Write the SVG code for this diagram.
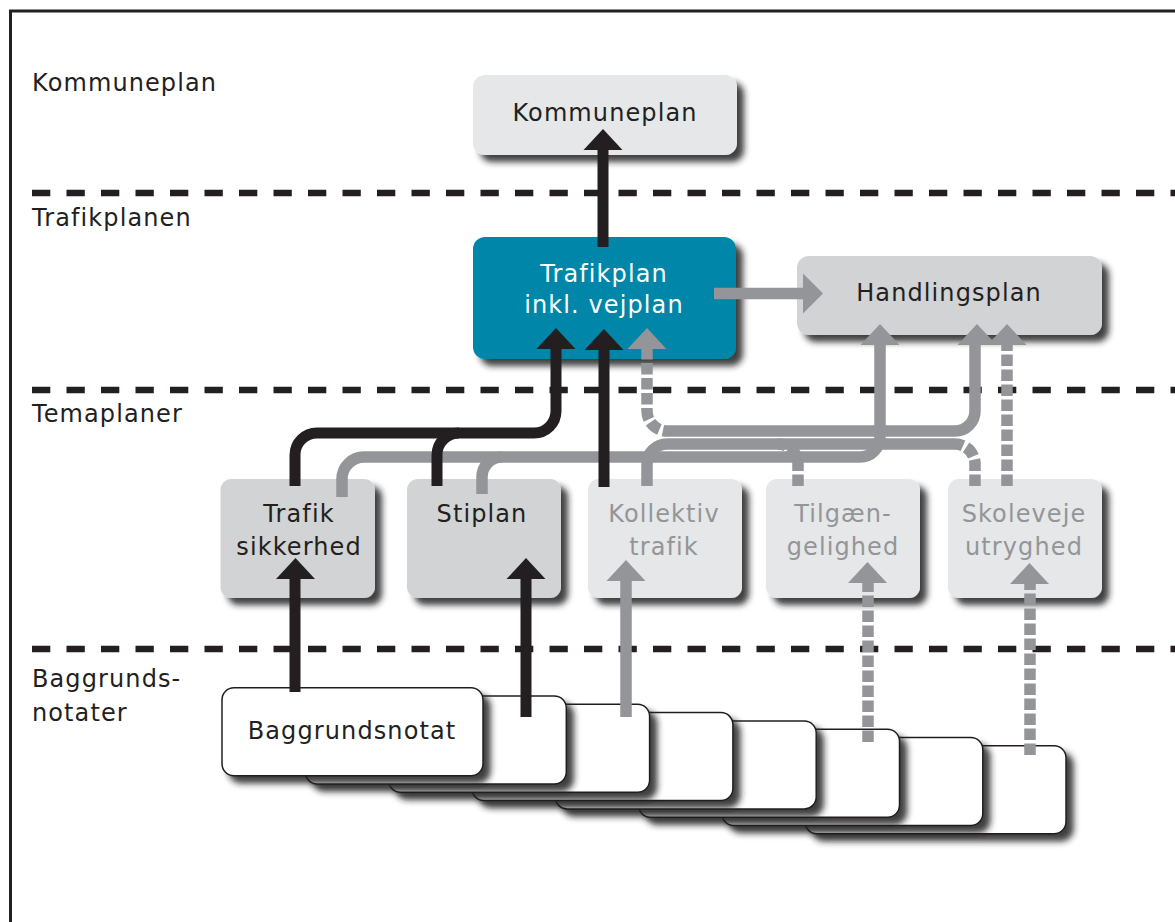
<svg xmlns="http://www.w3.org/2000/svg" width="1175" height="922" viewBox="0 0 1175 922">
<style>
text{font-family:"DejaVu Sans","Verdana",sans-serif;font-size:24px;letter-spacing:1.1px;fill:#231f20}
.c{text-anchor:middle}
.w{fill:#ffffff}
.g{fill:#939598}
.dash{stroke:#231f20;stroke-width:6.5;stroke-dasharray:18.3 16.2;fill:none}
.bk{stroke:#231f20;stroke-width:11;fill:none}
.gs{stroke:#939598;stroke-width:11.5;fill:none}
.gd{stroke:#939598;stroke-width:11.5;fill:none;stroke-dasharray:11.5 3.5}
.ahk{fill:#231f20}
.ahg{fill:#939598}
.box{filter:url(#sh)}
.note{fill:#ffffff;stroke:#231f20;stroke-width:1.5;filter:url(#sh)}
</style>
<defs>
<filter id="sh" x="-10%" y="-10%" width="130%" height="140%">
<feDropShadow dx="7" dy="7" stdDeviation="3" flood-color="#231f20" flood-opacity="0.85"/>
</filter>
</defs>
<rect x="0" y="0" width="1175" height="922" fill="#ffffff"/>
<rect x="10.5" y="11" width="1200" height="1000" fill="none" stroke="#231f20" stroke-width="3"/>
<g id="layers">
<line class="dash" x1="32" y1="193" x2="1175" y2="193"/>
<line class="dash" x1="32" y1="390" x2="1175" y2="390"/>
<line class="dash" x1="32" y1="649" x2="1175" y2="649"/>
<text x="32" y="91">Kommuneplan</text>
<text x="32" y="226">Trafikplanen</text>
<text x="32" y="422">Temaplaner</text>
<text x="32" y="687">Baggrunds-</text>
<text x="32" y="721">notater</text>
</g>
<g id="n-kommuneplan">
<rect class="box" x="473" y="75" width="264" height="80" rx="12" fill="#e6e7e8"/>
<text class="c" x="605" y="121">Kommuneplan</text>
</g>
<g id="n-trafikplan">
<rect class="box" x="473" y="237" width="263" height="122" rx="12" fill="#0086a9"/>
<text class="c w" x="604" y="282">Trafikplan</text>
<text class="c w" x="604" y="313">inkl. vejplan</text>
</g>
<g id="n-handlingsplan">
<rect class="box" x="797" y="256" width="305" height="79" rx="12" fill="#d1d3d4"/>
<text class="c" x="949" y="301">Handlingsplan</text>
</g>
<g id="n-trafiksikkerhed">
<rect class="box" x="220.5" y="479" width="154.5" height="119" rx="11" fill="#d1d3d4"/>
<text class="c" x="299" y="522">Trafik</text>
<text class="c" x="299" y="555">sikkerhed</text>
</g>
<g id="n-stiplan">
<rect class="box" x="407" y="479" width="154" height="119" rx="11" fill="#d1d3d4"/>
<text class="c" x="482" y="522">Stiplan</text>
</g>
<g id="n-kollektiv">
<rect class="box" x="588" y="479" width="154" height="119" rx="11" fill="#e6e7e8"/>
<text class="c g" x="664" y="522">Kollektiv</text>
<text class="c g" x="664" y="555">trafik</text>
</g>
<g id="n-tilgaengelighed">
<rect class="box" x="766" y="479" width="154" height="119" rx="11" fill="#e6e7e8"/>
<text class="c g" x="843" y="522">Tilgæn-</text>
<text class="c g" x="843" y="555">gelighed</text>
</g>
<g id="n-skoleveje">
<rect class="box" x="948" y="479" width="154" height="119" rx="11" fill="#e6e7e8"/>
<text class="c g" x="1024" y="522">Skoleveje</text>
<text class="c g" x="1024" y="555">utryghed</text>
</g>
<g id="n-baggrundsnotater">
<rect class="note" x="805" y="745.8" width="261" height="88" rx="12"/>
<rect class="note" x="721.8" y="737.5" width="261" height="88" rx="12"/>
<rect class="note" x="638.5" y="729.2" width="261" height="88" rx="12"/>
<rect class="note" x="555.2" y="720.9" width="261" height="88" rx="12"/>
<rect class="note" x="471.9" y="712.6" width="261" height="88" rx="12"/>
<rect class="note" x="388.6" y="704.3" width="261" height="88" rx="12"/>
<rect class="note" x="305.3" y="696" width="261" height="88" rx="12"/>
<rect class="note" x="222" y="687.7" width="261" height="88" rx="12"/>
<text class="c" x="352" y="739">Baggrundsnotat</text>
</g>
<g id="connectors">
<!-- gray solid -->
<path class="gs" d="M342,497 V479 A22,22 0 0 1 364,457 H860 A20,20 0 0 0 880,437 V344"/>
<path class="gs" d="M482,494 V477 A20,20 0 0 1 502,457"/>
<path class="gs" d="M667,431 H955 A20,20 0 0 0 975,411 V344"/>
<path class="gs" d="M647,486 V464 A20,20 0 0 1 667,444 H955"/>
<path class="gs" d="M714,293.5 H804"/>
<path class="gs" d="M626,717 V580"/>
<!-- gray dotted -->
<path class="gd" d="M647,348 V411 A20,20 0 0 0 667,431"/>
<path class="gd" d="M798,486 V464 A20,20 0 0 0 778,444"/>
<path class="gd" d="M975,486 V464 A20,20 0 0 0 955,444"/>
<path class="gd" d="M1007,486 V344"/>
<path class="gd" d="M868,742 V582"/>
<path class="gd" d="M1030,755 V584"/>
<!-- black -->
<path class="bk" d="M295,486 V455 A22,22 0 0 1 317,433 H534 A22,22 0 0 0 556,411 V348"/>
<path class="bk" d="M437,486 V455 A22,22 0 0 1 459,433"/>
<path class="bk" d="M604,487 V349"/>
<path class="bk" d="M603,247 V149"/>
<path class="bk" d="M295,692 V578"/>
<path class="bk" d="M526,717 V578"/>
<!-- arrowheads -->
<polygon class="ahk" points="603,129 622.5,150 583.5,150"/>
<polygon class="ahk" points="556,328 575.5,349 536.5,349"/>
<polygon class="ahk" points="604,329 623.5,350 584.5,350"/>
<polygon class="ahg" points="647,328 666.5,349 627.5,349"/>
<polygon class="ahg" points="823,293.5 803,273.5 803,313.5"/>
<polygon class="ahg" points="880,324 899.5,345 860.5,345"/>
<polygon class="ahg" points="977,324 996.5,345 957.5,345"/>
<polygon class="ahg" points="1007,324 1026.5,345 987.5,345"/>
<polygon class="ahk" points="295.5,558 315,579 276,579"/>
<polygon class="ahk" points="526,558 545.5,579 506.5,579"/>
<polygon class="ahg" points="626,560 645.5,581 606.5,581"/>
<polygon class="ahg" points="867.5,562 887,583 848,583"/>
<polygon class="ahg" points="1029.5,563 1049,584 1010,584"/>
</g>
</svg>
